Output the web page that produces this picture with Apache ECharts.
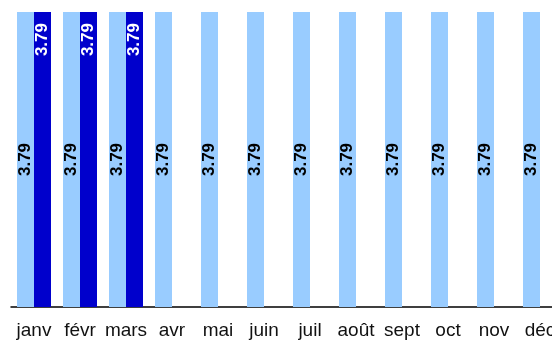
<!DOCTYPE html>
<html>
<head>
<meta charset="utf-8">
<script src="https://cdn.jsdelivr.net/npm/echarts@6/dist/echarts.min.js"></script>
<style>
html,body{margin:0;padding:0;background:#fff;overflow:hidden;}
#chart{width:563px;height:341px;}
</style>
</head>
<body>
<div id="chart"></div>
<script>
const months = ['janv', 'févr', 'mars', 'avr', 'mai', 'juin', 'juil', 'août', 'sept', 'oct', 'nov', 'déc'];
const lightValues = [3.79, 3.79, 3.79, 3.79, 3.79, 3.79, 3.79, 3.79, 3.79, 3.79, 3.79, 3.79];
const darkValues = [3.79, 3.79, 3.79, null, null, null, null, null, null, null, null, null];

const chart = echarts.init(document.getElementById('chart'));
const fontFamily = '"Liberation Sans", Arial, sans-serif';

// The plot runs slightly past the right edge of the page, so the last month is clipped.
chart.setOption({
  animation: false,
  grid: { left: 11, top: 12, right: 0, bottom: 34, containLabel: false },
  xAxis: {
    type: 'category',
    data: months,
    axisLine: { show: true, lineStyle: { color: '#000', width: 1.5 } },
    axisTick: { show: false },
    axisLabel: { color: '#111', fontSize: 19, fontFamily: fontFamily, margin: 14, interval: 0 }
  },
  yAxis: {
    type: 'value',
    min: 0,
    max: 3.79,
    show: false,
    splitLine: { show: false }
  },
  series: [
    {
      type: 'bar',
      data: lightValues,
      barWidth: 17,
      barGap: '0%',
      itemStyle: { color: '#99CCFF' },
      label: {
        show: true,
        position: 'inside',
        rotate: 90,
        color: '#000',
        fontWeight: 'bold',
        fontSize: 17,
        fontFamily: fontFamily,
        formatter: p => p.value.toFixed(2)
      }
    },
    {
      type: 'bar',
      data: darkValues,
      barWidth: 17,
      barGap: '0%',
      itemStyle: { color: '#0000CC' },
      label: {
        show: true,
        position: 'insideTop',
        rotate: 90,
        align: 'right',
        verticalAlign: 'middle',
        distance: 11,
        color: '#fff',
        fontWeight: 'bold',
        fontSize: 17,
        fontFamily: fontFamily,
        formatter: p => p.value.toFixed(2)
      }
    }
  ]
});
</script>
</body>
</html>
